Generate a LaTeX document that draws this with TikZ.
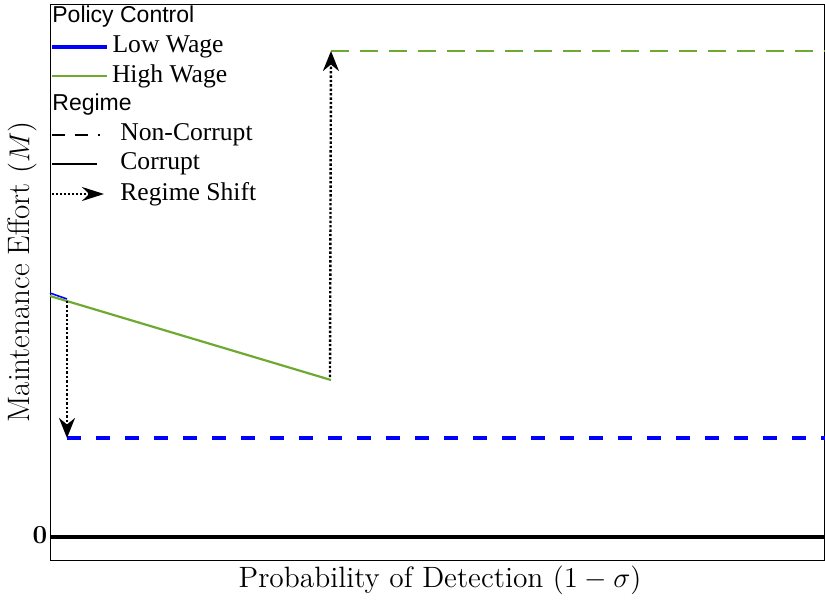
\documentclass[tikz,border=0pt]{standalone}
\usepackage{fontspec}
\newfontfamily\legfont{Liberation Serif}
\newfontfamily\headfont{Liberation Sans}
\usetikzlibrary{arrows.meta}
\definecolor{hw}{RGB}{110,170,50}
\tikzset{
  leg/.style={anchor=west,inner sep=0pt,text=black,font=\legfont\fontsize{12.8}{14}\selectfont},
  head/.style={anchor=west,inner sep=0pt,text=black,font=\headfont\fontsize{11.5}{14}\selectfont},
  regshift/.style={densely dotted,line width=1.2pt,-{Stealth[length=10pt,width=8pt]}}
}
\begin{document}
\begin{tikzpicture}[x=0.5pt,y=-0.5pt]
  \useasboundingbox (0,0) rectangle (825,600);
  % frame
  \draw[line width=0.5pt] (50,4) rectangle (824,560);
  \coordinate(Z0) at (50,537);
  \coordinate(Z1) at (825,537);
  \draw[line width=2pt] (Z0) -- (Z1);
  \node(zero) at (40,535) {\fontsize{13}{15}\selectfont\bfseries 0};
  % low wage
  \coordinate(LA) at (50,293);
  \coordinate(LB) at (67,299);
  \coordinate(LC) at (67,438);
  \coordinate(LD) at (825,438);
  \draw[blue,line width=0.8pt] (LA) -- (LB);
  \draw[blue,line width=2pt,dash pattern=on 7pt off 7.5pt] (LC) -- (LD);
  % high wage
  \coordinate(HA) at (50,296);
  \coordinate(HB) at (331,380);
  \coordinate(HC) at (331,51);
  \coordinate(HD) at (825,51);
  \draw[hw,line width=1.1pt] (HA) -- (HB);
  \draw[hw,line width=1.1pt,dash pattern=on 9pt off 5.5pt] (HC) -- (HD);
  % regime shifts
  \draw[regshift] (67,301) -- (LC);
  \draw[regshift] (330,377) -- (HC);
  % legend
  \node[head](pc) at (52,17) {Policy Control};
  \coordinate(l1) at (52,47);
  \draw[blue,line width=1.6pt] (l1) -- ++(55,0) node[leg,right=2pt]{Low Wage};
  \coordinate(l2) at (52,76);
  \draw[hw,line width=1pt] (l2) -- ++(55,0) node[leg,right=2pt]{High Wage};
  \node[head](rg) at (52,105) {Regime};
  \coordinate(l3) at (52,135);
  \draw[line width=0.6pt,dash pattern=on 6.5pt off 5pt] (l3) -- ++(48,0);
  \node[leg](nc) at (120,135) {Non-Corrupt};
  \coordinate(l4) at (52,164);
  \draw[line width=0.6pt] (l4) -- ++(45,0);
  \node[leg](cr) at (120,164) {Corrupt};
  \coordinate(l5) at (52,194);
  \draw[densely dotted,line width=1pt,-{Stealth[length=11pt,width=7pt]}] (l5) -- ++(52,0);
  \node[leg](rs) at (120,194) {Regime Shift};
  % axis labels
  \node(xlab) at (440,580) {\fontsize{14.7}{17}\selectfont Probability of Detection $(1-\sigma)$};
  \node[rotate=90](ylab) at (22,272) {\fontsize{15.5}{18}\selectfont Maintenance Effort $(M)$};
\end{tikzpicture}
\end{document}
